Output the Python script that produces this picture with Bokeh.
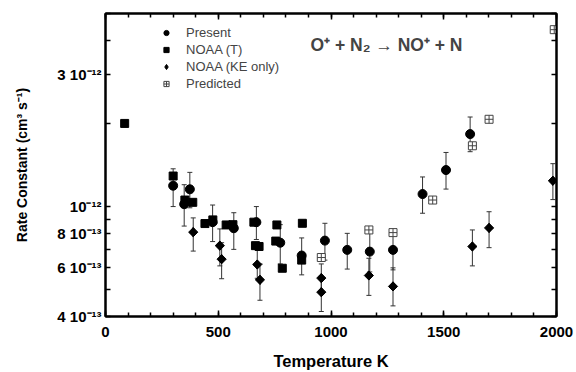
import numpy as np
from bokeh.plotting import figure
from bokeh.models import (LogAxis, LinearAxis, FixedTicker, Range1d, Whisker, TeeHead,
                          ColumnDataSource, Legend, LegendItem, Label, CustomLabelingPolicy)
from bokeh.embed import file_html
from bokeh.resources import INLINE

# ---- data (rate constants in units of 1e-12 cm^3 s^-1) ----
present_T = [300, 349, 374, 475, 569, 669, 775, 870, 973, 1072, 1172, 1275, 1406, 1510, 1617]
present_k = [1.19, 1.02, 1.155, 0.878, 0.835, 0.878, 0.74, 0.665, 0.753, 0.697, 0.687, 0.697, 1.11, 1.356, 1.83]
present_lo = [1.0, 0.85, 0.99, 0.747, 0.70, 0.76, 0.62, 0.566, 0.64, 0.594, 0.58, 0.59, 0.946, 1.157, 1.58]
present_hi = [1.37, 1.2, 1.33, 1.013, 0.95, 1.0, 0.86, 0.77, 0.87, 0.80, 0.80, 0.80, 1.28, 1.57, 2.11]

noaa_T = [85, 300, 352, 387, 441, 476, 535, 565, 658, 665, 681, 755, 760, 784, 870, 873]
noaa_k = [2.0, 1.29, 1.056, 1.036, 0.868, 0.895, 0.858, 0.86, 0.878, 0.722, 0.717, 0.75, 0.858, 0.598, 0.64, 0.87]

ke_T = [389, 507, 515, 673, 685, 957, 957, 1168, 1275, 1627, 1701, 1984]
ke_k = [0.808, 0.722, 0.645, 0.617, 0.543, 0.551, 0.49, 0.563, 0.514, 0.717, 0.837, 1.24]
ke_lo = [0.69, 0.61, 0.548, 0.55, 0.458, 0.49, 0.417, 0.477, 0.437, 0.61, 0.71, 1.06]
ke_hi = [0.91, 0.83, 0.74, 0.70, 0.62, 0.62, 0.56, 0.65, 0.60, 0.823, 0.958, 1.43]

pred_T = [957, 1168, 1275, 1451, 1627, 1701, 1990]
pred_k = [0.654, 0.823, 0.805, 1.056, 1.66, 2.07, 4.37]

ytick_major = [4e-13, 6e-13, 8e-13, 1e-12, 3e-12]
ytick_labels = ["4 10⁻¹³", "6 10⁻¹³", "8 10⁻¹³", "10⁻¹²", "3 10⁻¹²"]
ytick_minor = [5e-13, 7e-13, 9e-13, 2e-12, 4e-12, 5e-12]
xtick_major = [0, 500, 1000, 1500, 2000]
xtick_minor = list(range(0, 2001, 100))

UNIT = 1e-12
def sc(a):
    return [v * UNIT for v in a]

FONT = "Liberation Sans"

p = figure(width=576, height=372, y_axis_type="log",
           x_range=Range1d(0, 2000), y_range=Range1d(4e-13, 5e-12),
           output_backend="svg", toolbar_location=None,
           min_border_left=105, min_border_right=20, min_border_top=13, min_border_bottom=55)
p.xgrid.visible = False
p.ygrid.visible = False
p.outline_line_color = "black"
p.outline_line_width = 2

overrides = {v: l for v, l in zip(ytick_major, ytick_labels)}
no_labels = "for (const i of indices) indices.unset(i)\nreturn indices"

def style_axis(ax, labels=True, is_y=False):
    ax.axis_line_color = "black"
    ax.axis_line_width = 2
    ax.major_tick_in = 5 if is_y else 6
    ax.major_tick_out = 0
    ax.minor_tick_in = 5 if is_y else 4
    ax.minor_tick_out = 0
    ax.major_tick_line_width = 1.5
    ax.minor_tick_line_width = 1.5
    if labels:
        ax.major_label_text_font = FONT
        ax.major_label_text_font_style = "bold"
        ax.major_label_text_font_size = "15px"
        ax.major_label_text_color = "black"
        ax.axis_label_text_font = FONT
        ax.axis_label_text_font_style = "bold"
        ax.axis_label_text_color = "black"
    else:
        ax.major_label_policy = CustomLabelingPolicy(code=no_labels)
        ax.major_label_text_font_size = "0px"
        ax.major_label_standoff = 0
        ax.axis_label_standoff = 0
        ax.axis_label = None

xa = p.xaxis[0]
xa.ticker = FixedTicker(ticks=xtick_major, minor_ticks=xtick_minor)
style_axis(xa)
xa.axis_label = "Temperature K"
xa.axis_label_text_font_size = "16.5px"
xa.major_label_standoff = 10
xa.axis_label_standoff = 12

ya = p.yaxis[0]
ya.ticker = FixedTicker(ticks=ytick_major, minor_ticks=ytick_minor)
style_axis(ya, is_y=True)
ya.major_label_overrides = overrides
ya.axis_label = "Rate Constant (cm³ s⁻¹)"
ya.axis_label_text_font_size = "14px"
ya.major_label_standoff = 4
ya.axis_label_standoff = 24

top = LinearAxis(ticker=FixedTicker(ticks=xtick_major, minor_ticks=xtick_minor))
style_axis(top, labels=False)
p.add_layout(top, "above")

right = LogAxis(ticker=FixedTicker(ticks=ytick_major, minor_ticks=ytick_minor))
style_axis(right, labels=False, is_y=True)
p.add_layout(right, "right")

# error bars
src_p = ColumnDataSource(dict(x=present_T, y=sc(present_k), lo=sc(present_lo), hi=sc(present_hi)))
src_ke = ColumnDataSource(dict(x=ke_T, y=sc(ke_k), lo=sc(ke_lo), hi=sc(ke_hi)))
for s in (src_p, src_ke):
    w = Whisker(base="x", lower="lo", upper="hi", source=s, dimension="height",
                line_color="#333333", line_width=1,
                upper_head=TeeHead(size=5, line_color="#333333", line_width=1),
                lower_head=TeeHead(size=5, line_color="#333333", line_width=1),
                level="underlay")
    p.add_layout(w)

r_pred = p.scatter(pred_T, sc(pred_k), marker="square_cross", size=8,
                   line_color="#444444", fill_color="white", line_width=1)
# diamond glyph (used for the legend key), covered by rotated squares for the data look
r_ke_leg = p.scatter(src_ke.data["x"], src_ke.data["y"], marker="diamond", size=9, color="black")
r_ke = p.scatter(src_ke.data["x"], src_ke.data["y"], marker="square", angle=np.pi / 4, size=6.5,
                 color="black")
r_noaa = p.scatter(noaa_T, sc(noaa_k), marker="square", size=8, color="black")
r_pres = p.scatter(src_p.data["x"], src_p.data["y"], marker="circle", size=9, color="black")

legend = Legend(items=[LegendItem(label="Present", renderers=[r_pres]),
                       LegendItem(label="NOAA (T)", renderers=[r_noaa]),
                       LegendItem(label="NOAA (KE only)", renderers=[r_ke_leg]),
                       LegendItem(label="Predicted", renderers=[r_pred])],
                location=(54, 225), padding=0, margin=0, spacing=2,
                glyph_width=14, glyph_height=13, label_height=13, label_standoff=13,
                border_line_color=None, background_fill_alpha=0,
                label_text_font=FONT, label_text_font_size="13px")
p.add_layout(legend)

p.add_layout(Label(x=909, y=3.83e-12, text="O⁺ + N₂ → NO⁺ + N", text_font=FONT,
                   text_font_style="bold", text_font_size="17.5px", text_baseline="middle"))

open("out.html", "w").write(file_html(p, INLINE))
